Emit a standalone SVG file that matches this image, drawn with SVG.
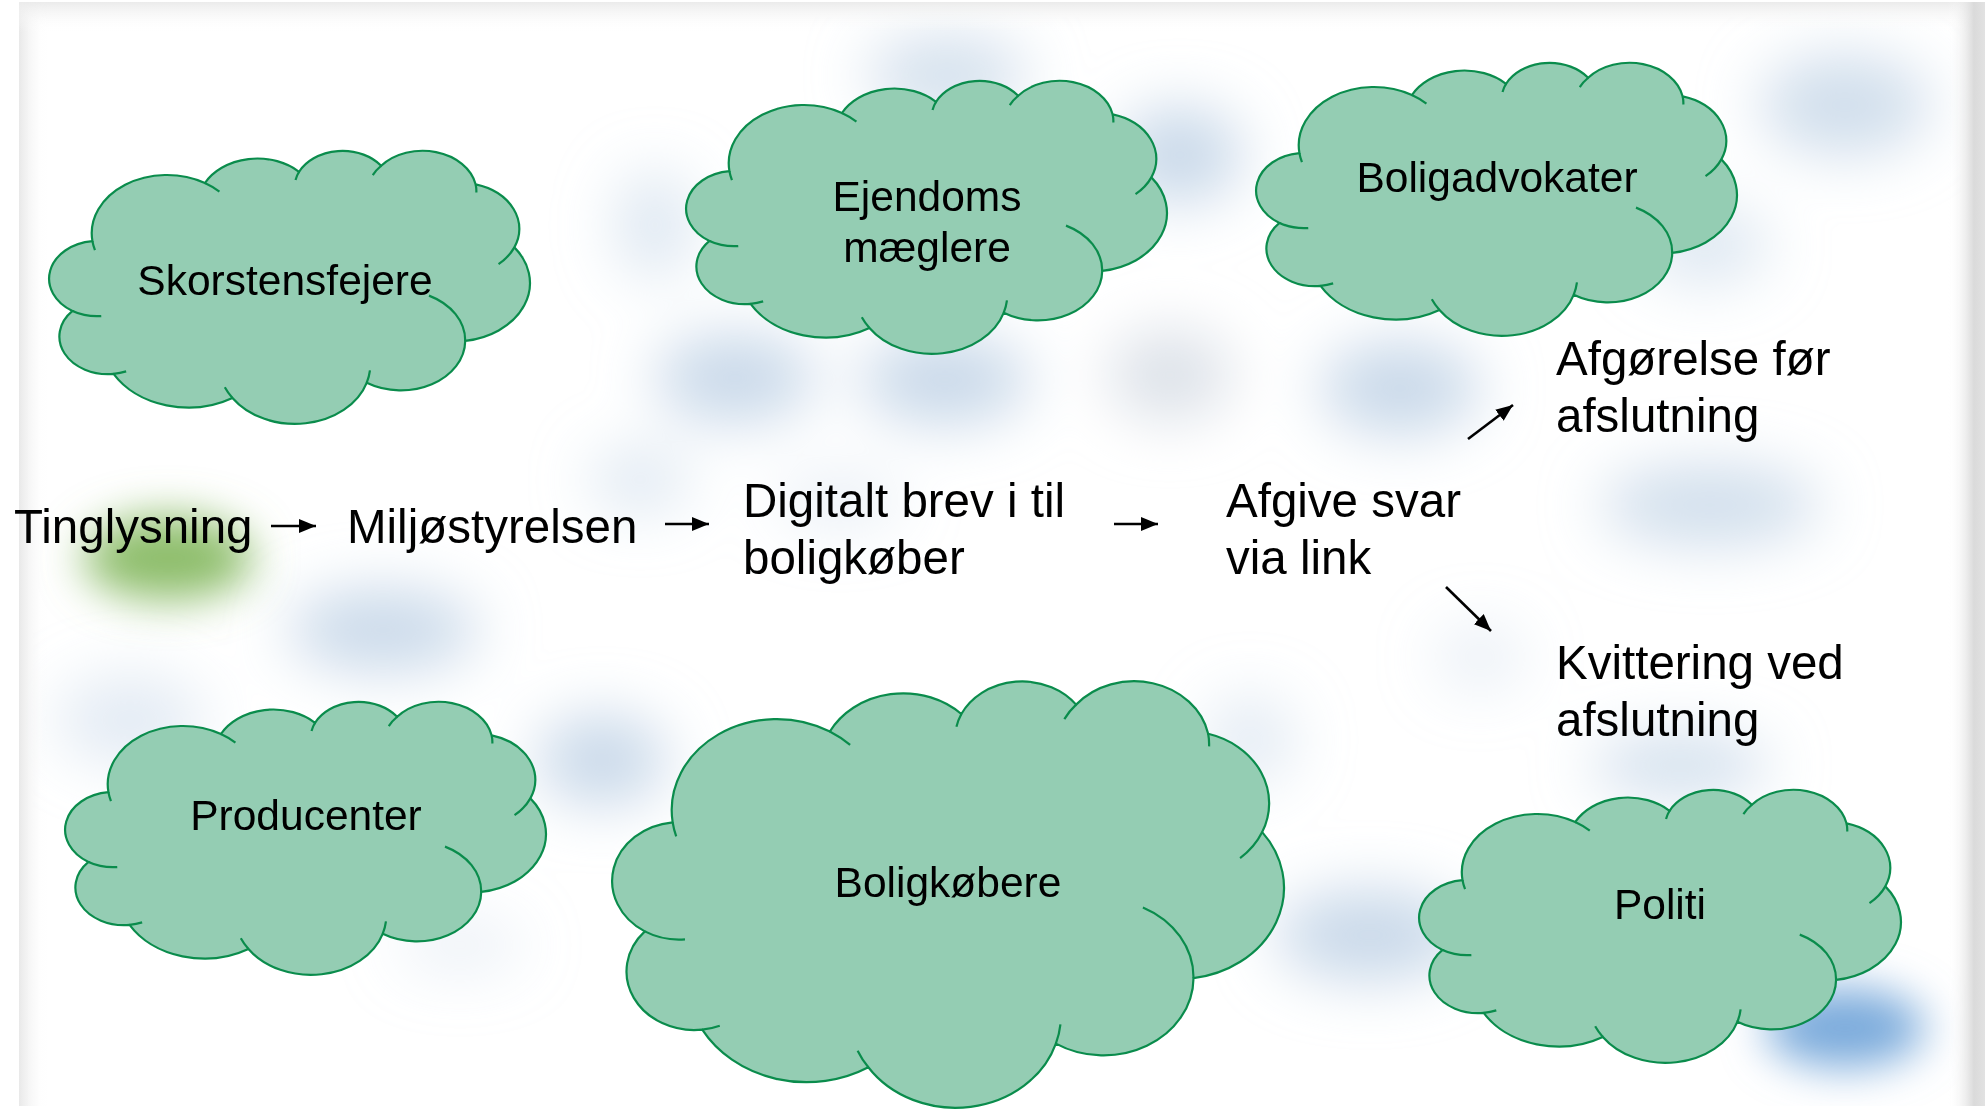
<svg xmlns="http://www.w3.org/2000/svg" xmlns:xlink="http://www.w3.org/1999/xlink" width="1985" height="1110" viewBox="0 0 1985 1110">
<style>
.flow{font-family:"Liberation Sans",Arial,sans-serif;font-size:47.5px;fill:#000}
.lbl{font-family:"Liberation Sans",Arial,sans-serif;font-size:42.5px;fill:#000;text-anchor:middle}
.cf{fill:#94cdb3;stroke:#0a8c4c;stroke-width:2.2}
.ci{fill:none;stroke:#0a8c4c;stroke-width:2.2}
.arr{stroke:#000;stroke-width:2.6;fill:none;marker-end:url(#ah)}
</style>
<defs>
<marker id="ah" markerUnits="userSpaceOnUse" markerWidth="19" markerHeight="15" refX="17" refY="7" orient="auto" viewBox="0 0 19 15">
<path d="M0,0 L17,7 L0,14 z" fill="#000"/>
</marker>
<filter id="bl" x="-100%" y="-100%" width="300%" height="300%"><feGaussianBlur stdDeviation="30"/></filter>
<filter id="bl2" x="-100%" y="-100%" width="300%" height="300%"><feGaussianBlur stdDeviation="22"/></filter>
<linearGradient id="gl" x1="0" y1="0" x2="1" y2="0"><stop offset="0" stop-color="#e8e8e8"/><stop offset="1" stop-color="#ffffff" stop-opacity="0"/></linearGradient>
<linearGradient id="gt" x1="0" y1="0" x2="0" y2="1"><stop offset="0" stop-color="#ebebeb"/><stop offset="1" stop-color="#ffffff" stop-opacity="0"/></linearGradient>
<linearGradient id="gr" x1="0" y1="0" x2="1" y2="0"><stop offset="0" stop-color="#ffffff" stop-opacity="0"/><stop offset="0.7" stop-color="#dadada"/><stop offset="1" stop-color="#e2e2e2"/></linearGradient>
<clipPath id="slide"><rect x="19" y="2" width="1966" height="1104"/></clipPath>
<path id="co" vector-effect="non-scaling-stroke" d="M3900 14370 A6753 9190 0 0 1 14005 5202 A5333 7267 0 0 1 22458 3435 A4365 5945 0 0 1 29836 2486 A4857 6595 0 0 1 38324 5426 A5333 7273 0 0 1 41798 15354 A6775 9220 0 0 1 37382 30095 A5785 7867 0 0 1 28533 36702 A6752 9215 0 0 1 16478 39090 A7720 10543 0 0 1 5801 35294 A4360 5918 0 0 1 2109 25373 A4345 5945 0 0 1 3900 14370 Z"/>
<path id="cn" vector-effect="non-scaling-stroke" d="M4693 26177 A4345 5945 0 0 1 2109 25373 M6928 34899 A4360 5918 0 0 1 5801 35294 M16478 39090 A6752 9215 0 0 1 15790 37413 M28827 34751 A6752 9215 0 0 1 28533 36702 M34129 22954 A5785 7867 0 0 1 37382 30095 M41798 15354 A5333 7273 0 0 1 40375 17987 M38324 5426 A4857 6595 0 0 1 38382 6698 M29078 3952 A4857 6595 0 0 1 29836 2486 M22141 4720 A4365 5945 0 0 1 22458 3435 M14000 5192 A6753 9190 0 0 1 15307 6553 M4127 15789 A6753 9190 0 0 1 3900 14370"/>
</defs>
<rect x="0" y="0" width="1985" height="1110" fill="#ffffff"/>
<g id="background" clip-path="url(#slide)">
<g filter="url(#bl)" fill="#c8d8e9">
<ellipse cx="947" cy="75" rx="80" ry="40" opacity="0.8"/>
<ellipse cx="1180" cy="155" rx="62" ry="48"/>
<ellipse cx="735" cy="378" rx="80" ry="44"/>
<ellipse cx="945" cy="380" rx="85" ry="44"/>
<ellipse cx="1170" cy="375" rx="62" ry="45" fill="#dce1e8"/>
<ellipse cx="655" cy="225" rx="40" ry="55" opacity="0.6"/>
<ellipse cx="1845" cy="105" rx="85" ry="50" opacity="0.85"/>
<ellipse cx="1705" cy="245" rx="65" ry="40" opacity="0.6"/>
<ellipse cx="1400" cy="388" rx="80" ry="46"/>
<ellipse cx="1710" cy="505" rx="110" ry="40" opacity="0.85"/>
<ellipse cx="383" cy="630" rx="95" ry="40"/>
<ellipse cx="602" cy="760" rx="65" ry="45"/>
<ellipse cx="130" cy="720" rx="75" ry="45" opacity="0.5"/>
<ellipse cx="1680" cy="765" rx="90" ry="28" opacity="0.9"/>
<ellipse cx="1370" cy="935" rx="95" ry="45"/>
<ellipse cx="1480" cy="657" rx="45" ry="32" opacity="0.4"/>
<ellipse cx="1250" cy="740" rx="45" ry="45" opacity="0.5"/>
<ellipse cx="640" cy="480" rx="50" ry="32" opacity="0.6"/>
<ellipse cx="840" cy="500" rx="65" ry="28" opacity="0.4"/>
<ellipse cx="460" cy="945" rx="65" ry="28" opacity="0.35"/>
</g>
<g filter="url(#bl2)">
<ellipse cx="1845" cy="1028" rx="80" ry="40" fill="#7aaadb"/>
<ellipse cx="168" cy="558" rx="85" ry="42" fill="#8dbd6b"/>
</g>
<rect x="19" y="0" width="28" height="1106" fill="url(#gl)"/>
<rect x="19" y="2" width="1966" height="30" fill="url(#gt)"/>
<rect x="1948" y="0" width="37" height="1106" fill="url(#gr)"/>
</g>
<g id="connectors">
<line class="arr" x1="271" y1="526" x2="316" y2="526"/>
<line class="arr" x1="665" y1="524" x2="709" y2="524"/>
<line class="arr" x1="1114" y1="524" x2="1158" y2="524"/>
<line class="arr" x1="1468" y1="439" x2="1513" y2="405"/>
<line class="arr" x1="1446" y1="587" x2="1491" y2="631"/>
</g>
<g id="node-skorstensfejere">
<g transform="translate(49,150) scale(0.011134,0.006343)"><use href="#co" class="cf"/><use href="#cn" class="ci"/></g>
<text class="lbl" x="285" y="295">Skorstensfejere</text>
</g>
<g id="node-ejendomsmaeglere">
<g transform="translate(686,80) scale(0.011134,0.006343)"><use href="#co" class="cf"/><use href="#cn" class="ci"/></g>
<text class="lbl" x="927" y="211">Ejendoms</text>
<text class="lbl" x="927" y="262">mæglere</text>
</g>
<g id="node-boligadvokater">
<g transform="translate(1256,62) scale(0.011134,0.006343)"><use href="#co" class="cf"/><use href="#cn" class="ci"/></g>
<text class="lbl" x="1497" y="192">Boligadvokater</text>
</g>
<g id="node-producenter">
<g transform="translate(65,701) scale(0.011134,0.006343)"><use href="#co" class="cf"/><use href="#cn" class="ci"/></g>
<text class="lbl" x="306" y="830">Producenter</text>
</g>
<g id="node-boligkobere">
<g transform="translate(612,680) scale(0.015556,0.009907)"><use href="#co" class="cf"/><use href="#cn" class="ci"/></g>
<text class="lbl" x="948" y="897">Boligkøbere</text>
</g>
<g id="node-politi">
<g transform="translate(1419,789) scale(0.011157,0.006343)"><use href="#co" class="cf"/><use href="#cn" class="ci"/></g>
<text class="lbl" x="1660" y="919">Politi</text>
</g>
<g id="node-tinglysning"><text class="flow" x="14" y="543">Tinglysning</text></g>
<g id="node-miljostyrelsen"><text class="flow" x="347" y="543">Miljøstyrelsen</text></g>
<g id="node-digitalt-brev"><text class="flow" x="743" y="517">Digitalt brev i til</text><text class="flow" x="743" y="574">boligkøber</text></g>
<g id="node-afgive-svar"><text class="flow" x="1226" y="517">Afgive svar</text><text class="flow" x="1226" y="574">via link</text></g>
<g id="node-afgorelse"><text class="flow" x="1556" y="375">Afgørelse før</text><text class="flow" x="1556" y="432">afslutning</text></g>
<g id="node-kvittering"><text class="flow" x="1556" y="679">Kvittering ved</text><text class="flow" x="1556" y="736">afslutning</text></g>
</svg>
